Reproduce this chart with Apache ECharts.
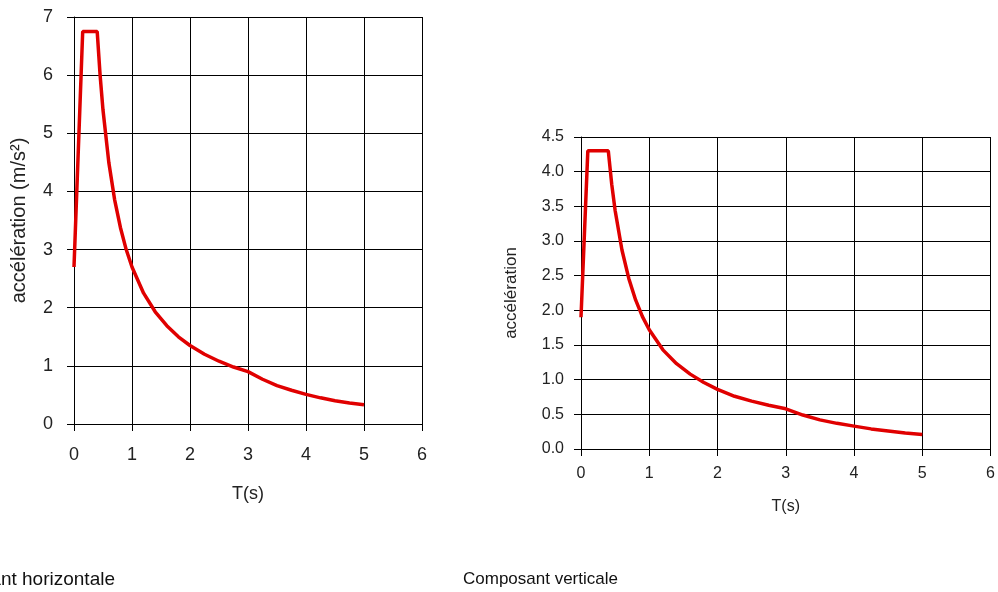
<!DOCTYPE html>
<html>
<head>
<meta charset="utf-8">
<script src="https://cdn.jsdelivr.net/npm/echarts@6/dist/echarts.min.js"></script>
<style>
  html, body { margin: 0; padding: 0; background: #fff; }
  #chart { width: 998px; height: 592px; }
</style>
</head>
<body>
<div id="chart"></div>
<script>
// spectre horizontal
var periodsH = [0, 0.05, 0.1, 0.15, 0.4, 0.45, 0.5, 0.6, 0.7, 0.8, 0.9, 1.0, 1.2, 1.4, 1.6, 1.8, 2.0, 2.25, 2.5, 2.75, 3.0, 3.25, 3.5, 3.75, 4.0, 4.25, 4.5, 4.75, 5.0];
var accH = [2.7, 4.05, 5.4, 6.75, 6.75, 6.0, 5.4, 4.5, 3.86, 3.38, 3.0, 2.7, 2.25, 1.93, 1.69, 1.5, 1.35, 1.2, 1.08, 0.98, 0.9, 0.77, 0.66, 0.58, 0.51, 0.45, 0.4, 0.36, 0.33];

// spectre vertical
var periodsV = [0, 0.05, 0.1, 0.4, 0.45, 0.5, 0.6, 0.7, 0.8, 0.9, 1.0, 1.2, 1.4, 1.6, 1.8, 2.0, 2.25, 2.5, 2.75, 3.0, 3.25, 3.5, 3.75, 4.0, 4.25, 4.5, 4.75, 5.0];
var accV = [1.9, 3.1, 4.3, 4.3, 3.82, 3.44, 2.87, 2.46, 2.15, 1.91, 1.72, 1.43, 1.23, 1.08, 0.96, 0.86, 0.76, 0.69, 0.63, 0.58, 0.49, 0.42, 0.37, 0.33, 0.29, 0.26, 0.23, 0.21];

var titles = ['Composant horizontale', 'Composant verticale'];
var yNames = ['accélération (m/s²)', 'accélération'];

function pairs(xs, ys) {
    var out = [];
    for (var i = 0; i < xs.length; i++) {
        out.push([xs[i], ys[i]]);
    }
    return out;
}

var font = '"Liberation Sans", Arial, sans-serif';
var black = { lineStyle: { color: '#000', width: 1 } };

function xAxisFor(idx, size, margin, gap) {
    return {
        type: 'value', gridIndex: idx, min: 0, max: 6, interval: 1,
        name: 'T(s)', nameLocation: 'middle', nameGap: gap,
        nameTextStyle: { fontFamily: font, fontSize: size, color: '#222' },
        axisLine: black, splitLine: { show: true, lineStyle: { color: '#000', width: 1 } },
        axisTick: { show: true, length: 7, lineStyle: { color: '#000' } },
        axisLabel: { fontFamily: font, fontSize: size, color: '#222', margin: margin }
    };
}

var option = {
    backgroundColor: '#fff',
    animation: false,
    title: [
        { text: titles[0], right: 878, top: 565, textStyle: { fontFamily: font, fontSize: 19, fontWeight: 'normal', color: '#111' } },
        { text: titles[1], left: 458, top: 566, textStyle: { fontFamily: font, fontSize: 17, fontWeight: 'normal', color: '#111' } }
    ],
    grid: [
        { left: 74, top: 17, width: 348, height: 407 },
        { left: 581, top: 137, width: 412, height: 312 }
    ],
    xAxis: [
        xAxisFor(0, 18, 22, 61),
        xAxisFor(1, 16, 17, 50)
    ],
    yAxis: [
        {
            type: 'value', gridIndex: 0, min: 0, max: 7, interval: 1,
            name: yNames[0], nameLocation: 'middle', nameGap: 45,
            nameTextStyle: { fontFamily: font, fontSize: 20, color: '#222' },
            axisLine: { show: true, lineStyle: { color: '#000' } },
            splitLine: { show: true, lineStyle: { color: '#000', width: 1 } },
            axisTick: { show: true, length: 7, lineStyle: { color: '#000' } },
            axisLabel: { fontFamily: font, fontSize: 18, color: '#222', margin: 21 }
        },
        {
            type: 'value', gridIndex: 1, min: 0, max: 4.5, interval: 0.5,
            name: yNames[1], nameLocation: 'middle', nameGap: 61,
            nameTextStyle: { fontFamily: font, fontSize: 17, color: '#222' },
            axisLine: { show: true, lineStyle: { color: '#000' } },
            splitLine: { show: true, lineStyle: { color: '#000', width: 1 } },
            axisTick: { show: true, length: 7, lineStyle: { color: '#000' } },
            axisLabel: {
                fontFamily: font, fontSize: 16, color: '#222', margin: 17,
                formatter: function (v) { return v.toFixed(1); }
            }
        }
    ],
    series: [
        {
            type: 'line', xAxisIndex: 0, yAxisIndex: 0,
            data: pairs(periodsH, accH), showSymbol: false,
            lineStyle: { color: '#e00000', width: 3.5 }
        },
        {
            type: 'line', xAxisIndex: 1, yAxisIndex: 1,
            data: pairs(periodsV, accV), showSymbol: false,
            lineStyle: { color: '#e00000', width: 3.5 }
        }
    ]
};

var chart = echarts.init(document.getElementById('chart'));
chart.setOption(option);
</script>
</body>
</html>
